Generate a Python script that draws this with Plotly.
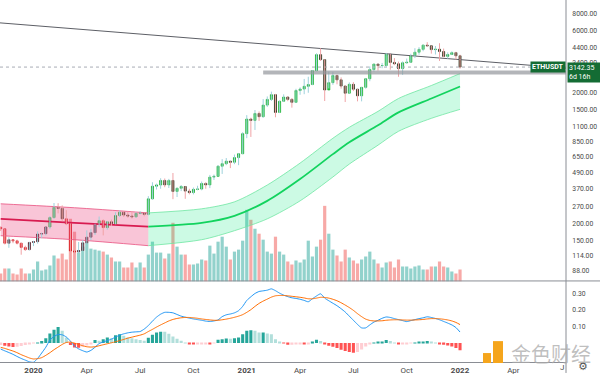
import math
import numpy as np
import pandas as pd
import plotly.graph_objects as go

# ---------------- data (weekly ETHUSDT, bars open on Monday) ----------------
dates = pd.date_range("2019-11-11", periods=113, freq="7D")

opens = [188,183,142,151,148,142,132,127,144,146,
         167,168,189,223,267,262,218,200,124,122,
         125,143,158,171,197,211,187,207,200,231,
         245,233,229,226,240,242,236,310,387,395,
         428,396,428,353,373,385,355,346,366,368,
         406,396,454,460,550,575,601,590,640,685,
         975,1260,1230,1390,1314,1610,1780,1935,1416,1723,
         1855,1780,1690,2080,2135,2240,2310,2950,3910,3580,
         2100,2390,2710,2510,2250,1985,2320,2130,1895,2200,
         2560,3010,3310,3225,3230,3940,3410,3330,3060,3390,
         3420,3850,4080,4290,4620,4570,4270,4300,4130,3790,
         3920,4050,3830]
highs = [190,184,158,152,151,143,136,145,148,175,
         171,190,229,288,287,276,254,201,147,145,
         150,178,183,200,227,216,210,215,245,253,
         251,248,249,244,249,245,325,415,405,445,
         443,440,488,378,395,387,370,378,390,420,
         415,472,475,560,623,635,601,675,690,1000,
         1350,1290,1477,1440,1790,1875,2040,1960,1740,1945,
         1875,1820,2145,2200,2550,2650,2980,4000,4372,3600,
         2900,2890,2750,2620,2280,2400,2410,2140,2210,2580,
         3180,3330,3330,3380,4030,3970,3680,3460,3470,3650,
         3970,4380,4460,4670,4870,4580,4550,4780,4350,4070,
         4140,4110,3900]
lows = [176,139,131,142,139,116,124,125,135,141,
        155,163,182,218,240,209,195,86,107,120,
        124,140,150,164,188,163,180,192,198,225,
        225,222,219,222,236,228,232,305,365,370,
        380,375,308,320,355,310,335,335,360,360,
        370,374,432,460,480,560,532,570,560,680,
        900,920,1040,1220,1290,1560,1730,1300,1400,1705,
        1725,1540,1670,1930,1950,2000,2290,2930,3500,1730,
        2160,2300,2320,2150,1700,1970,2060,1720,1720,2150,
        2450,2900,2950,3080,3150,3000,3250,2650,2740,3330,
        3390,3680,3900,4150,4500,3980,3920,3500,3740,3640,
        3880,3590,3060]
closes = [183,142,151,148,142,132,127,144,146,167,
          168,189,223,267,262,218,200,124,122,125,
          143,158,171,197,211,187,207,200,231,245,
          233,229,226,240,242,236,310,387,395,428,
          396,428,353,373,385,355,346,366,368,406,
          396,454,460,550,575,601,590,640,685,975,
          1260,1230,1390,1314,1610,1780,1935,1416,1723,1855,
          1780,1690,2080,2135,2240,2310,2950,3910,3580,2100,
          2390,2710,2510,2250,1985,2320,2130,1895,2200,2560,
          3010,3310,3225,3230,3940,3410,3330,3060,3390,3420,
          3850,4080,4290,4620,4570,4270,4300,4130,3790,3920,
          4050,3830,3142.35]
volume = [8,13,13,8,7,13,8,8,12,20,
          11,12,16,26,23,28,22,63,50,29,
          35,39,33,32,31,30,27,24,20,20,
          14,14,19,14,19,14,27,40,29,29,
          23,28,59,35,27,27,17,17,18,22,
          21,36,28,40,45,35,22,30,32,41,
          72,62,53,48,42,30,28,45,30,27,
          20,17,21,19,22,41,25,35,42,76,
          48,32,26,20,32,24,21,18,22,25,
          30,22,18,14,19,20,14,22,15,15,
          13,15,16,12,12,15,15,20,15,14,
          10,8,12]

macd = [-0.036,-0.047,-0.057,-0.068,-0.081,-0.093,-0.103,-0.113,-0.116,-0.093,
        -0.06,-0.025,0.018,0.04,0.052,0.05,0.037,0.012,-0.018,-0.035,
        -0.046,-0.054,-0.044,-0.025,-0.003,0.007,0.015,0.024,0.036,0.048,
        0.056,0.062,0.066,0.068,0.07,0.085,0.106,0.133,0.157,0.175,
        0.186,0.186,0.183,0.173,0.163,0.157,0.151,0.146,0.142,0.138,
        0.133,0.131,0.134,0.14,0.16,0.171,0.176,0.183,0.196,0.222,
        0.258,0.28,0.30,0.312,0.316,0.32,0.328,0.317,0.302,0.29,
        0.281,0.274,0.27,0.265,0.258,0.25,0.268,0.285,0.298,0.272,
        0.256,0.241,0.226,0.208,0.188,0.163,0.138,0.113,0.092,0.092,
        0.11,0.127,0.138,0.15,0.158,0.155,0.148,0.142,0.136,0.13,
        0.136,0.142,0.148,0.153,0.159,0.155,0.149,0.141,0.131,0.121,
        0.11,0.094,0.067]
signal = [-0.026,-0.032,-0.04,-0.048,-0.058,-0.07,-0.08,-0.09,-0.096,-0.094,
          -0.088,-0.074,-0.058,-0.04,-0.024,-0.008,0.004,0.006,0.0,-0.008,
          -0.016,-0.022,-0.024,-0.022,-0.016,-0.01,-0.004,0.002,0.008,0.015,
          0.022,0.03,0.036,0.042,0.048,0.056,0.07,0.083,0.097,0.11,
          0.122,0.134,0.143,0.149,0.153,0.155,0.155,0.153,0.15,0.146,
          0.143,0.14,0.138,0.138,0.141,0.145,0.15,0.156,0.163,0.172,
          0.186,0.202,0.222,0.24,0.254,0.266,0.278,0.286,0.288,0.288,
          0.286,0.283,0.28,0.277,0.273,0.268,0.268,0.272,0.277,0.276,
          0.272,0.265,0.256,0.244,0.23,0.215,0.198,0.178,0.16,0.145,
          0.137,0.134,0.134,0.135,0.138,0.14,0.141,0.141,0.14,0.139,
          0.139,0.14,0.141,0.143,0.146,0.148,0.148,0.147,0.144,0.14,
          0.134,0.125,0.112]
hist = [-0.012,-0.016,-0.02,-0.024,-0.022,-0.018,-0.012,-0.006,-0.002,0.004,
        0.012,0.03,0.058,0.08,0.098,0.074,0.034,-0.012,-0.026,-0.028,
        -0.022,-0.014,-0.004,0.018,0.014,0.024,0.034,0.03,0.048,0.054,
        0.044,0.034,0.03,0.024,0.018,0.014,0.032,0.051,0.064,0.069,
        0.068,0.056,0.04,0.026,0.014,0.004,-0.006,-0.008,-0.008,-0.006,
        -0.004,-0.008,-0.002,0.02,0.024,0.028,0.026,0.03,0.034,0.054,
        0.074,0.078,0.074,0.064,0.064,0.058,0.054,0.024,0.008,-0.002,
        -0.01,-0.01,-0.004,-0.004,-0.006,-0.006,0.006,0.02,0.012,-0.004,
        -0.016,-0.022,-0.03,-0.04,-0.048,-0.054,-0.058,-0.054,-0.038,-0.02,
        -0.008,0.002,0.006,0.008,0.018,0.012,0.004,-0.004,-0.004,-0.004,
        -0.002,0.004,0.008,0.01,0.012,0.006,0.002,-0.004,-0.01,-0.014,
        -0.02,-0.03,-0.044]

# moving-average band, sampled at these bar indexes
band_idx = [0, 18, 36, 49, 57, 65, 73, 81, 85, 92, 97, 105, 112]
band_mid = [218, 203, 190, 203, 230, 299, 439, 680, 838, 1129, 1417, 1809, 2232]
band_up = [284, 265, 242, 260, 294, 395, 581, 899, 1090, 1442, 1809, 2272, 2802]
band_lo = [162, 151, 136, 151, 177, 218, 299, 455, 571, 796, 1016, 1276, 1494]
band_turn = 2  # sample index where the band turns from falling (red) to rising (green)

# drawings
trend_dates = ["2019-11-09 19:40", "2022-07-02 20:38"]
trend_prices = [6835, 3085]
zone_dates = ["2021-02-01", "2022-07-02 20:38"]
zone_prices = [2754, 2953]
last_price = 3142.35
x_range = ["2019-11-09 19:40", "2022-07-02 20:38"]

price_ticks = [88, 114, 150, 200, 270, 370, 490, 650, 850, 1100, 1500, 2000, 2600, 3400, 4400, 6000, 8000]
macd_ticks = [0.1, 0.2, 0.3]
time_ticks = ["2020-01-06", "2020-04-06", "2020-07-06", "2020-10-05", "2021-01-04",
              "2021-04-05", "2021-07-05", "2021-10-04", "2022-01-03", "2022-04-04"]
time_labels = ["<b>2020</b>", "Apr", "Jul", "Oct", "<b>2021</b>", "Apr", "Jul", "Oct", "<b>2022</b>", "Apr"]

# ---------------- figure ----------------
FONT = "Roboto"
fig = go.Figure()
n = len(dates)
up = [closes[i] >= opens[i] for i in range(n)]
WEEK_MS = 7 * 24 * 3600 * 1000

# volume (base axis, drawn underneath)
fig.add_trace(go.Bar(
    x=dates, y=volume, xaxis="x", yaxis="y", width=0.78 * WEEK_MS,
    marker=dict(color=["rgba(38,166,154,0.5)" if u else "rgba(239,83,80,0.5)" for u in up],
                line=dict(width=0)),
    hoverinfo="skip"))

bdates = [dates[i] for i in band_idx]
segments = [(0, band_turn + 1, "rgba(236,64,122,0.30)", "#d81b50", "#e8517f"),
            (band_turn, len(band_idx), "rgba(0,230,118,0.20)", "#12d35e", "#6ee6a2")]
for a, b, fillc, midc, edgec in segments:
    fig.add_trace(go.Scatter(x=bdates[a:b], y=band_lo[a:b], yaxis="y2", mode="lines",
                             line=dict(color=edgec, width=0.8, shape="spline", smoothing=0.8),
                             hoverinfo="skip"))
    fig.add_trace(go.Scatter(x=bdates[a:b], y=band_up[a:b], yaxis="y2", mode="lines",
                             fill="tonexty", fillcolor=fillc,
                             line=dict(color=edgec, width=0.8, shape="spline", smoothing=0.8),
                             hoverinfo="skip"))
    fig.add_trace(go.Scatter(x=bdates[a:b], y=band_mid[a:b], yaxis="y2", mode="lines",
                             line=dict(color=midc, width=1.8, shape="spline", smoothing=0.8),
                             hoverinfo="skip"))

# trend line
fig.add_trace(go.Scatter(x=trend_dates, y=trend_prices, yaxis="y2", mode="lines",
                         line=dict(color="#5d5f66", width=1), hoverinfo="skip"))
# last price dotted line
fig.add_trace(go.Scatter(x=x_range, y=[last_price, last_price], yaxis="y2", mode="lines",
                         line=dict(color="#a9adb5", width=1, dash="dot"), hoverinfo="skip"))

# wicks
for want, col in [(True, "#9fd2dc"), (False, "#f0a3a6")]:
    wx, wy = [], []
    for i in range(n):
        if up[i] == want:
            wx += [dates[i], dates[i], None]
            wy += [lows[i], highs[i], None]
    fig.add_trace(go.Scatter(x=wx, y=wy, yaxis="y2", mode="lines",
                             line=dict(color=col, width=1), hoverinfo="skip"))

# bodies, coloured by regime (close above / below the band's centre line)
center_log = np.interp(np.arange(n), band_idx, np.log10(band_mid))
bull = [math.log10(closes[i]) > center_log[i] for i in range(n)]
for regime, inc_fill, inc_line, dec_fill, dec_line in [
        (True, "#24d140", "#14a92c", "#343c1f", "#262d16"),
        (False, "#5e1b27", "#4a121c", "#f21a22", "#d0121a")]:
    idx = [i for i in range(n) if bull[i] == regime]
    fig.add_trace(go.Candlestick(
        x=[dates[i] for i in idx],
        open=[opens[i] for i in idx], close=[closes[i] for i in idx],
        high=[max(opens[i], closes[i]) for i in idx],
        low=[min(opens[i], closes[i]) for i in idx],
        yaxis="y2", whiskerwidth=0,
        increasing=dict(fillcolor=inc_fill, line=dict(color=inc_line, width=0.7)),
        decreasing=dict(fillcolor=dec_fill, line=dict(color=dec_line, width=0.7)),
        hoverinfo="skip"))

# grey support zone
fig.add_trace(go.Scatter(
    x=[zone_dates[0], zone_dates[1], zone_dates[1], zone_dates[0], zone_dates[0]],
    y=[zone_prices[0], zone_prices[0], zone_prices[1], zone_prices[1], zone_prices[0]],
    yaxis="y2", mode="lines", fill="toself", fillcolor="rgba(150,152,158,0.72)",
    line=dict(width=0), hoverinfo="skip"))

# MACD pane
hist_colors = []
for k, h in enumerate(hist):
    prev = hist[k - 1] if k else h
    if h >= 0:
        hist_colors.append("#26a69a" if h >= prev else "#b2dfdb")
    else:
        hist_colors.append("#ffcdd2" if h >= prev else "#ff5252")
fig.add_trace(go.Bar(x=dates, y=hist, yaxis="y3", width=0.75 * WEEK_MS,
                     marker=dict(color=hist_colors, line=dict(width=0)), hoverinfo="skip"))
fig.add_trace(go.Scatter(x=dates, y=macd, yaxis="y3", mode="lines",
                         line=dict(color="#2196f3", width=1, shape="spline", smoothing=0.6),
                         hoverinfo="skip"))
fig.add_trace(go.Scatter(x=dates, y=signal, yaxis="y3", mode="lines",
                         line=dict(color="#ff6d00", width=1, shape="spline", smoothing=0.6),
                         hoverinfo="skip"))

PLOT_H = 364.0
price_lo, price_hi = 1.8605, 4.0093
fig.update_layout(
    width=600, height=375,
    margin=dict(l=0, r=34, t=0, b=11),
    paper_bgcolor="white", plot_bgcolor="white",
    showlegend=False, barmode="overlay", boxgap=0.28,
    font=dict(family=FONT, size=8, color="#4a4a4a"),
    xaxis=dict(domain=[0, 1], anchor="y3", type="date", range=x_range,
               tickvals=time_ticks, ticktext=time_labels, ticks="",
               showgrid=False, zeroline=False, showline=True,
               linecolor="#8a8d94", linewidth=1,
               tickfont=dict(family=FONT, size=8, color="#4a4a4a"),
               rangeslider=dict(visible=False)),
    yaxis=dict(domain=[(PLOT_H - 283) / PLOT_H, 1], range=[0, 283], visible=False),
    yaxis2=dict(overlaying="y", side="right", anchor="x", type="log",
                range=[price_lo, price_hi],
                tickvals=price_ticks, ticktext=["%.2f" % t for t in price_ticks],
                showgrid=False, zeroline=False, showline=False,
                ticks="outside", ticklen=4, tickcolor="rgba(0,0,0,0)",
                tickfont=dict(family=FONT, size=6.8, color="#4a4a4a")),
    yaxis3=dict(domain=[0, (PLOT_H - 284) / PLOT_H], anchor="x", side="right",
                range=[-0.1143, 0.3668],
                tickvals=macd_ticks, ticktext=["%.2f" % t for t in macd_ticks],
                showgrid=False, zeroline=False, showline=False,
                ticks="outside", ticklen=4, tickcolor="rgba(0,0,0,0)",
                tickfont=dict(family=FONT, size=6.8, color="#4a4a4a")),
)

# frame lines: pane separator, price-scale border
fig.add_shape(type="line", xref="paper", yref="paper", x0=0, x1=600 / 566,
              y0=(PLOT_H - 282.5) / PLOT_H, y1=(PLOT_H - 282.5) / PLOT_H,
              line=dict(color="#8a8d94", width=1))
fig.add_shape(type="line", xref="paper", yref="paper", x0=1, x1=1,
              y0=-11 / PLOT_H, y1=1, line=dict(color="#8a8d94", width=1))

# price labels
lp = math.log10(last_price)
fig.add_annotation(xref="paper", yref="y2", x=1, y=lp, xanchor="right", yanchor="middle",
                   text="<b>ETHUSDT</b>", showarrow=False, bgcolor="#146c34",
                   font=dict(family=FONT, size=7, color="white"), borderpad=1)
fig.add_annotation(xref="paper", yref="y2", x=1 + 1 / 566, y=lp, xanchor="left", yanchor="top",
                   yshift=5, text="3142.35<br>6d 16h", showarrow=False, bgcolor="#146c34",
                   align="left", width=31, font=dict(family=FONT, size=7, color="white"),
                   borderpad=1)

# clipped "Jul" label at the right edge, settings gear
fig.add_annotation(xref="paper", yref="paper", x=1, y=-6 / PLOT_H, xanchor="right",
                   yanchor="middle", text="J", showarrow=False,
                   font=dict(family=FONT, size=8, color="#4a4a4a"))
fig.add_annotation(xref="paper", yref="paper", x=583 / 566, y=-5 / PLOT_H, xanchor="center",
                   yanchor="middle", text="⚙", showarrow=False,
                   font=dict(family="DejaVu Sans", size=11, color="#555555"))

# watermark
def px_x(v):
    return v / 566.0

def px_y(v):
    return (PLOT_H - v) / PLOT_H

fig.add_shape(type="rect", xref="paper", yref="paper",
              x0=px_x(493), x1=px_x(503), y0=px_y(365), y1=px_y(343),
              fillcolor="#f5a51c", line=dict(width=0))
fig.add_shape(type="rect", xref="paper", yref="paper",
              x0=px_x(483), x1=px_x(491), y0=px_y(365), y1=px_y(355),
              fillcolor="#f5a51c", line=dict(width=0))
fig.add_annotation(xref="paper", yref="paper", x=px_x(551), y=px_y(355),
                   xanchor="center", yanchor="middle", text="金色财经", showarrow=False,
                   font=dict(family="Noto Sans CJK SC", size=20, color="rgba(170,170,170,0.75)"))

fig.write_html("out.html",
               config={"displayModeBar": False},
               post_script="document.body.style.margin='0px';document.body.style.overflow='hidden';")
